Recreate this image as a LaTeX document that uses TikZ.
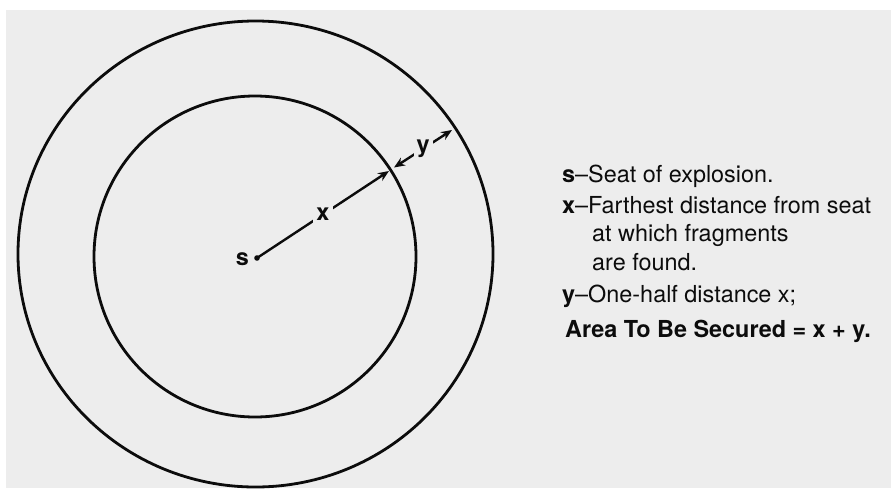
\documentclass[tikz,border=0pt]{standalone}
\usepackage{fontspec}
\setmainfont{TeX Gyre Heros}
\usetikzlibrary{arrows.meta,shapes.geometric}
\definecolor{paper}{RGB}{237,237,237}
\definecolor{ink}{RGB}{12,12,12}
\begin{document}
\begin{tikzpicture}[x=1pt,y=-1pt,
  ring/.style={ellipse, draw=ink, line width=2.8pt, inner sep=0pt},
  arr/.style={draw=ink, line width=2.4pt, -{Stealth[length=11pt,width=9pt]}},
  dblarr/.style={draw=ink, line width=2.4pt, {Stealth[length=11pt,width=9pt]}-{Stealth[length=11pt,width=9pt]}},
  lab/.style={font=\fontsize{23.4}{28}\selectfont\bfseries, text=ink, fill=paper, inner sep=3pt},
  legend/.style={anchor=base west, inner sep=0pt, text=ink, font=\fontsize{23.4}{28}\selectfont},
]
\useasboundingbox (0,0) rectangle (891,488);
\fill[white] (0,0) rectangle (891,488);
\fill[paper] (6,10) rectangle (891,488);

% rings
\node[ring, minimum width=475pt, minimum height=466pt] (outer) at (255.5,254) {};
\node[ring, minimum width=322pt, minimum height=321pt] (inner) at (255,256.5) {};

% seat of explosion
\coordinate (s) at (257,258);
\fill[ink] (s) circle (2.8pt);
\node[font=\fontsize{23.4}{28}\selectfont\bfseries, text=ink, inner sep=0pt, anchor=base east] (slab) at (249,265) {s};

% distances
\coordinate (xtip) at (389,171);
\coordinate (ystart) at (394,167.5);
\coordinate (yend) at (452,130);
\draw[arr] (s) -- node[lab] (xlab) {x} (xtip);
\draw[dblarr] (ystart) -- node[lab] (ylab) {y} (yend);

% legend
\node[legend] (l1) at (562,182) {\textbf{s}–Seat of explosion.};
\node[legend] (l2) at (562,213) {\textbf{x}–Farthest distance from seat};
\node[legend] (l3) at (592,241) {at which fragments};
\node[legend] (l4) at (592,270) {are found.};
\node[legend] (l5) at (562,302) {\textbf{y}–One-half distance x;};
\node[legend, font=\fontsize{23.4}{28}\selectfont\bfseries] (l6) at (565,337) {Area To Be Secured = x + y.};
\end{tikzpicture}
\end{document}
